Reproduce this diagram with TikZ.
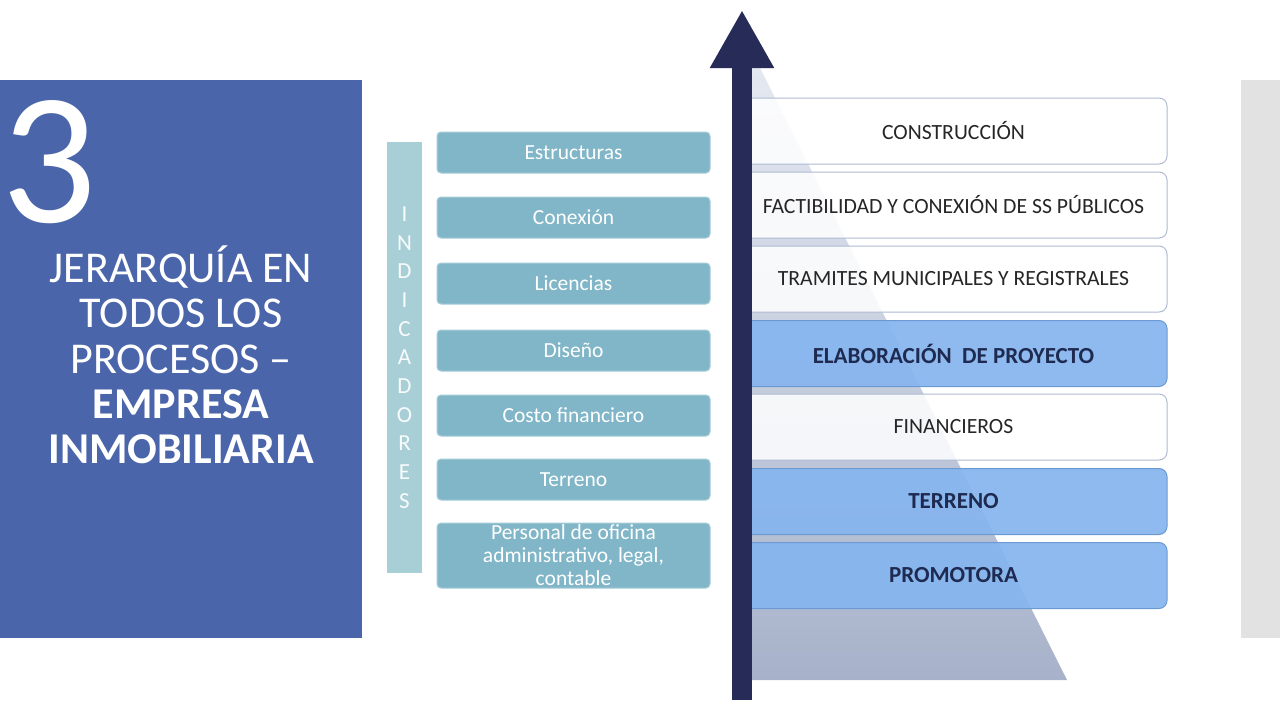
\documentclass[tikz,border=0pt]{standalone}
\usepackage{fontspec}
\setmainfont{Carlito}
\usetikzlibrary{arrows.meta}
\definecolor{panelblue}{HTML}{4A65AA}
\definecolor{tealbox}{HTML}{80B6C8}
\definecolor{tealbar}{HTML}{A9CFD6}
\definecolor{navy}{HTML}{262B57}
\definecolor{bluebox}{HTML}{85B5EF}
\definecolor{blueedge}{HTML}{6B9AD2}
\definecolor{whiteedge}{HTML}{AEBBD2}
\definecolor{greybar}{HTML}{E2E2E2}
\definecolor{pyrbot}{HTML}{A7B2CA}
\definecolor{pyrtop}{HTML}{E6EAF2}
\definecolor{darktext}{HTML}{1F2A50}
\tikzset{
  indbox/.style={fill=tealbox, draw=tealbox!70!white, line width=1pt, rounded corners=4pt,
    minimum width=273pt, minimum height=41pt, inner sep=0pt, text=white,
    font=\fontsize{21.5}{23}\selectfont, align=center},
  levelwhite/.style={fill=white, fill opacity=0.85, text opacity=1, draw=whiteedge, line width=1pt,
    rounded corners=8pt, minimum width=427pt, minimum height=66pt, inner sep=0pt,
    text=black!85, font=\fontsize{21.7}{23}\selectfont},
  levelblue/.style={fill=bluebox, fill opacity=0.92, text opacity=1, draw=blueedge, line width=1pt,
    rounded corners=8pt, minimum width=427pt, minimum height=66pt, inner sep=0pt,
    text=darktext, font=\fontsize{23}{25}\selectfont\bfseries},
}
\begin{document}
\begin{tikzpicture}[x=1pt,y=-1pt]
\useasboundingbox (0,0) rectangle (1280,720);
\fill[white] (0,0) rectangle (1280,720);
% left panel
\fill[panelblue] (0,80) rectangle (362,638);
\node[text=white, inner sep=0pt, font=\fontsize{188}{188}\selectfont] (num) at (49,162) {3};
\node[text=white, align=center, inner sep=0pt, font=\fontsize{44}{45.3}\selectfont] (title) at (181,355)
  {JERARQUÍA EN\\TODOS LOS\\PROCESOS –\\\textbf{EMPRESA}\\\textbf{INMOBILIARIA}};
% right grey bar
\fill[greybar] (1241,80) rectangle (1280,638);
% indicadores bar
\node[fill=tealbar, minimum width=35pt, minimum height=431pt, inner sep=0pt] (ind) at (404.5,357.5) {};
\node[text=white!92!tealbar, align=center, inner sep=0pt, font=\fontsize{23}{28.7}\selectfont] (indtxt) at (404.5,357.5)
  {I\\N\\D\\I\\C\\A\\D\\O\\R\\E\\S};
% indicator boxes
\node[indbox] (b1) at (573.5,152.5) {Estructuras};
\node[indbox] (b2) at (573.5,217.5) {Conexión};
\node[indbox] (b3) at (573.5,283.5) {Licencias};
\node[indbox] (b4) at (573.5,350.5) {Diseño};
\node[indbox] (b5) at (573.5,415.5) {Costo financiero};
\node[indbox] (b6) at (573.5,479.5) {Terreno};
\node[indbox, minimum height=65pt] (b7) at (573.5,555.5) {Personal de oficina\\administrativo, legal,\\contable};
% pyramid
\shade[top color=pyrtop, bottom color=pyrbot] (738,52) -- (752,52) -- (1067,680) -- (738,680) -- cycle;
% levels
\node[levelwhite] (l1) at (953.5,131) {CONSTRUCCIÓN};
\node[levelwhite] (l2) at (953.5,205) {FACTIBILIDAD Y CONEXIÓN DE SS PÚBLICOS};
\node[levelwhite] (l3) at (953.5,279) {TRAMITES MUNICIPALES Y REGISTRALES};
\node[levelblue]  (l4) at (953.5,353.5) {ELABORACIÓN~ DE PROYECTO};
\node[levelwhite] (l5) at (953.5,427) {FINANCIEROS};
\node[levelblue]  (l6) at (953.5,501.5) {TERRENO};
\node[levelblue]  (l7) at (953.5,575.5) {PROMOTORA};
% arrow
\coordinate (abot) at (742,700);
\coordinate (atop) at (742,10);
\draw[navy, line width=20pt, -{Triangle[width=60pt,length=58pt]}] (abot) -- (atop);
\end{tikzpicture}
\end{document}
